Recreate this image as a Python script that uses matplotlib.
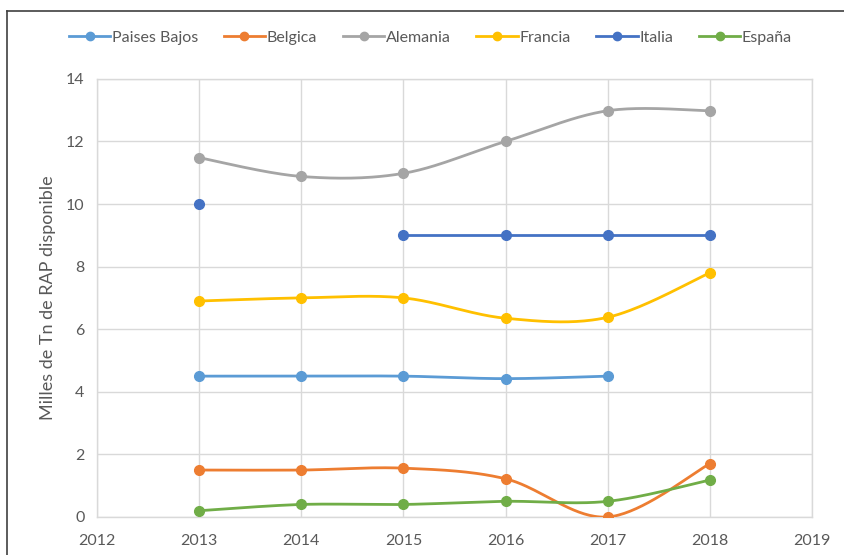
import numpy as np
import matplotlib.pyplot as plt
from matplotlib.lines import Line2D

plt.rcParams['font.family'] = ['Lato', 'DejaVu Sans']

years = [2013, 2014, 2015, 2016, 2017, 2018]
paises_bajos = [4.5, 4.5, 4.5, 4.42, 4.5, np.nan]
belgica = [1.5, 1.5, 1.56, 1.22, 0.0, 1.7]
alemania = [11.48, 10.88, 10.98, 12.0, 12.98, 12.98]
francia = [6.9, 7.0, 7.0, 6.35, 6.38, 7.8]
italia = [10.0, np.nan, 9.0, 9.0, 9.0, 9.0]
espana = [0.2, 0.4, 0.4, 0.5, 0.5, 1.18]

series = [
    ('Paises Bajos', paises_bajos, '#5B9BD5'),
    ('Belgica', belgica, '#ED7D31'),
    ('Alemania', alemania, '#A5A5A5'),
    ('Francia', francia, '#FFC000'),
    ('Italia', italia, '#4472C4'),
    ('España', espana, '#70AD47'),
]


def smooth(x, y, n=40):
    # Catmull-Rom curve through the points (like Excel's smoothed line)
    x = np.asarray(x, float)
    y = np.asarray(y, float)
    if len(x) < 2:
        return x, y
    px = np.concatenate([[x[0]], x, [x[-1]]])
    py = np.concatenate([[y[0]], y, [y[-1]]])
    xs, ys = [], []
    t = np.linspace(0, 1, n)
    for i in range(1, len(px) - 2):
        for p, out in ((px, xs), (py, ys)):
            p0, p1, p2, p3 = p[i - 1], p[i], p[i + 1], p[i + 2]
            c1 = p1 + (p2 - p0) / 6
            c2 = p2 - (p3 - p1) / 6
            out.append((1 - t) ** 3 * p1 + 3 * (1 - t) ** 2 * t * c1
                       + 3 * (1 - t) * t ** 2 * c2 + t ** 3 * p2)
    return np.concatenate(xs), np.concatenate(ys)


fig = plt.figure(figsize=(8.44, 5.55), dpi=100)
ax = fig.add_axes([0.115, 0.0685, 0.847, 0.7895])

handles = []
for name, vals, col in series:
    vals = np.asarray(vals, float)
    xs = np.asarray(years, float)
    ok = ~np.isnan(vals)
    # split into runs of consecutive values
    runs, cur = [], []
    for i in range(len(vals)):
        if ok[i]:
            cur.append(i)
        elif cur:
            runs.append(cur)
            cur = []
    if cur:
        runs.append(cur)
    for r in runs:
        sx, sy = smooth(xs[r], vals[r])
        ax.plot(sx, sy, color=col, lw=2.0, zorder=3, solid_capstyle='round')
    ax.plot(xs[ok], vals[ok], 'o', color=col, ms=7, zorder=4)
    handles.append(Line2D([], [], color=col, lw=2.0, marker='o', ms=6, label=name))

ax.set_xlim(2012, 2019)
ax.set_ylim(0, 14)
ax.set_xticks(range(2012, 2020))
ax.set_yticks(range(0, 15, 2))
ax.grid(True, color='#d9d9d9', lw=1.0)
ax.set_axisbelow(True)
for s in ax.spines.values():
    s.set_color('#d9d9d9')
    s.set_linewidth(1.0)
ax.tick_params(length=0, labelsize=11.5, labelcolor='#595959')
ax.tick_params(axis='x', pad=12)
ax.tick_params(axis='y', pad=9)
ax.set_ylabel('Milles de Tn de RAP disponible', fontsize=13, color='#595959', labelpad=7)

fig.legend(handles=handles, loc='center', bbox_to_anchor=(0.51, 0.932), ncol=6,
           frameon=False, fontsize=11.5, handlelength=2.6, handletextpad=0.1,
           columnspacing=1.6, labelcolor='#595959')

# outer chart frame
fig.add_artist(Line2D([0.0083, 1.0], [0.980, 0.980], transform=fig.transFigure, color='#404040', lw=1.2))
fig.add_artist(Line2D([0.0083, 0.0083], [0.0, 0.980], transform=fig.transFigure, color='#404040', lw=1.2))

fig.savefig('out.png', dpi=100)
